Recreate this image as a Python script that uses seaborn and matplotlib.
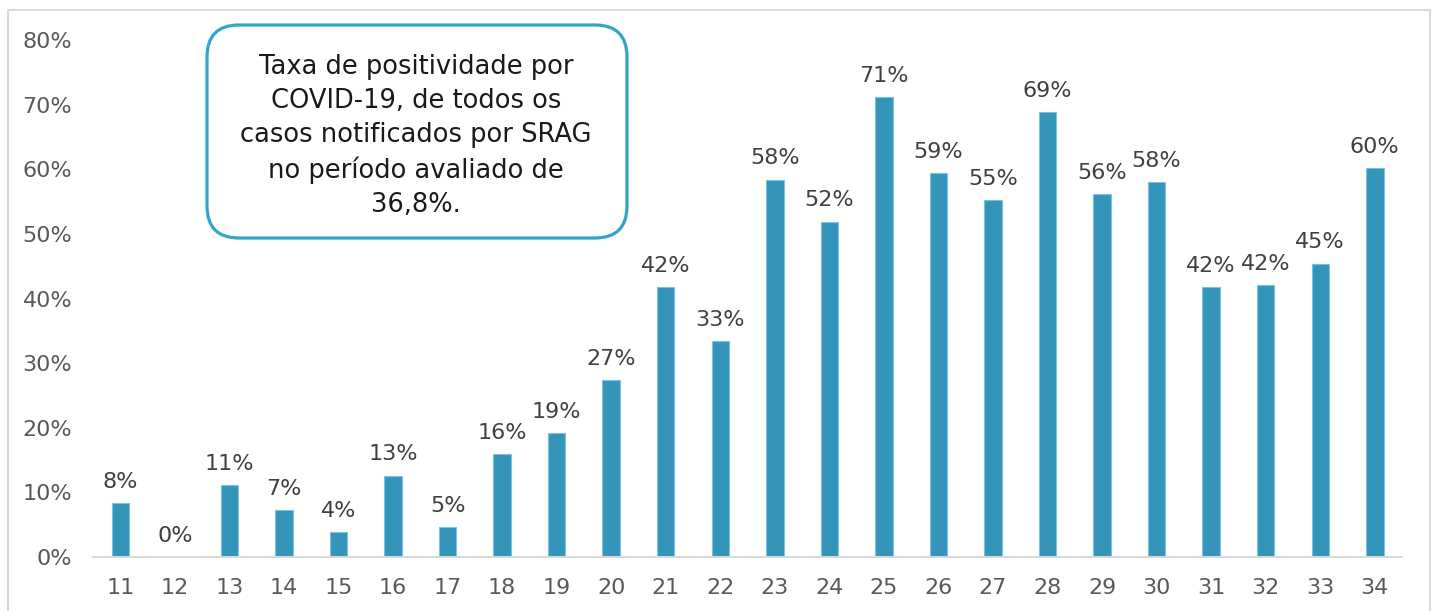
import numpy as np
import pandas as pd
import matplotlib
matplotlib.use("Agg")
import matplotlib.pyplot as plt
from matplotlib.patches import FancyBboxPatch
from matplotlib.lines import Line2D
from matplotlib.transforms import IdentityTransform
import seaborn as sns

# semanas epidemiologicas e taxa de positividade (%)
semanas = ['11', '12', '13', '14', '15', '16', '17', '18', '19', '20', '21', '22',
           '23', '24', '25', '26', '27', '28', '29', '30', '31', '32', '33', '34']
taxa = [8.4, 0.0, 11.2, 7.2, 3.8, 12.6, 4.6, 15.9, 19.2, 27.4, 41.8, 33.4,
        58.4, 51.9, 71.2, 59.4, 55.3, 68.9, 56.1, 58.0, 41.8, 42.1, 45.4, 60.2]
y_ticks = [0, 10, 20, 30, 40, 50, 60, 70, 80]
texto_caixa = ("Taxa de positividade por\nCOVID-19, de todos os\n"
               "casos notificados por SRAG\nno período avaliado de\n36,8%.")

df = pd.DataFrame({'semana': semanas, 'taxa': taxa})

sns.set_style("white")
plt.rcParams['font.family'] = ['DejaVu Sans']

fig = plt.figure(figsize=(14.38, 6.11), dpi=100)
ax = fig.add_axes([0.0647, 0.0884, 0.9103, 0.8461])

sns.barplot(data=df, x='semana', y='taxa', color='#3494ba', saturation=1,
            width=0.32, edgecolor='#7cc3dc', linewidth=0.8, ax=ax)

ax.bar_label(ax.containers[0], fmt=lambda v: f"{v:.0f}%", padding=8,
             fontsize=16, color='#404040')

ax.set_ylim(0, 80)
ax.set_xlim(-0.5, len(semanas) - 0.5)
ax.set_yticks(y_ticks)
ax.set_yticklabels([f"{t}%" for t in y_ticks])
ax.set_xlabel('')
ax.set_ylabel('')

for s in ['left', 'top', 'right']:
    ax.spines[s].set_visible(False)
ax.spines['bottom'].set_color('#d9d9d9')
ax.spines['bottom'].set_linewidth(1.5)

ax.tick_params(axis='y', length=0, pad=15, labelsize=16, labelcolor='#595959')
ax.tick_params(axis='x', which='major', length=0, pad=15, labelsize=16,
               labelcolor='#595959')
ax.set_xticks(np.arange(-0.5, len(semanas), 1.0), minor=True)
ax.tick_params(axis='x', which='minor', length=5, width=1.5, color='#d9d9d9')

# borda da area do grafico
borda = dict(color='#d9d9d9', linewidth=1.5, transform=IdentityTransform())
fig.add_artist(Line2D([8, 8], [0, 601], **borda))
fig.add_artist(Line2D([8, 1430], [601, 601], **borda))
fig.add_artist(Line2D([1430, 1430], [0, 601], **borda))

# caixa de texto
caixa = FancyBboxPatch((207, 373), 420, 213,
                       boxstyle="round,pad=0,rounding_size=32",
                       facecolor='white', edgecolor='#31a6c8', linewidth=2.3,
                       transform=IdentityTransform(), zorder=5)
fig.add_artist(caixa)
fig.text(416 / 1438, 1 - 136 / 611, texto_caixa, ha='center', va='center',
         fontsize=18.5, color='#1a1a1a', linespacing=1.4, zorder=6)

fig.savefig('out.png', dpi=100)
